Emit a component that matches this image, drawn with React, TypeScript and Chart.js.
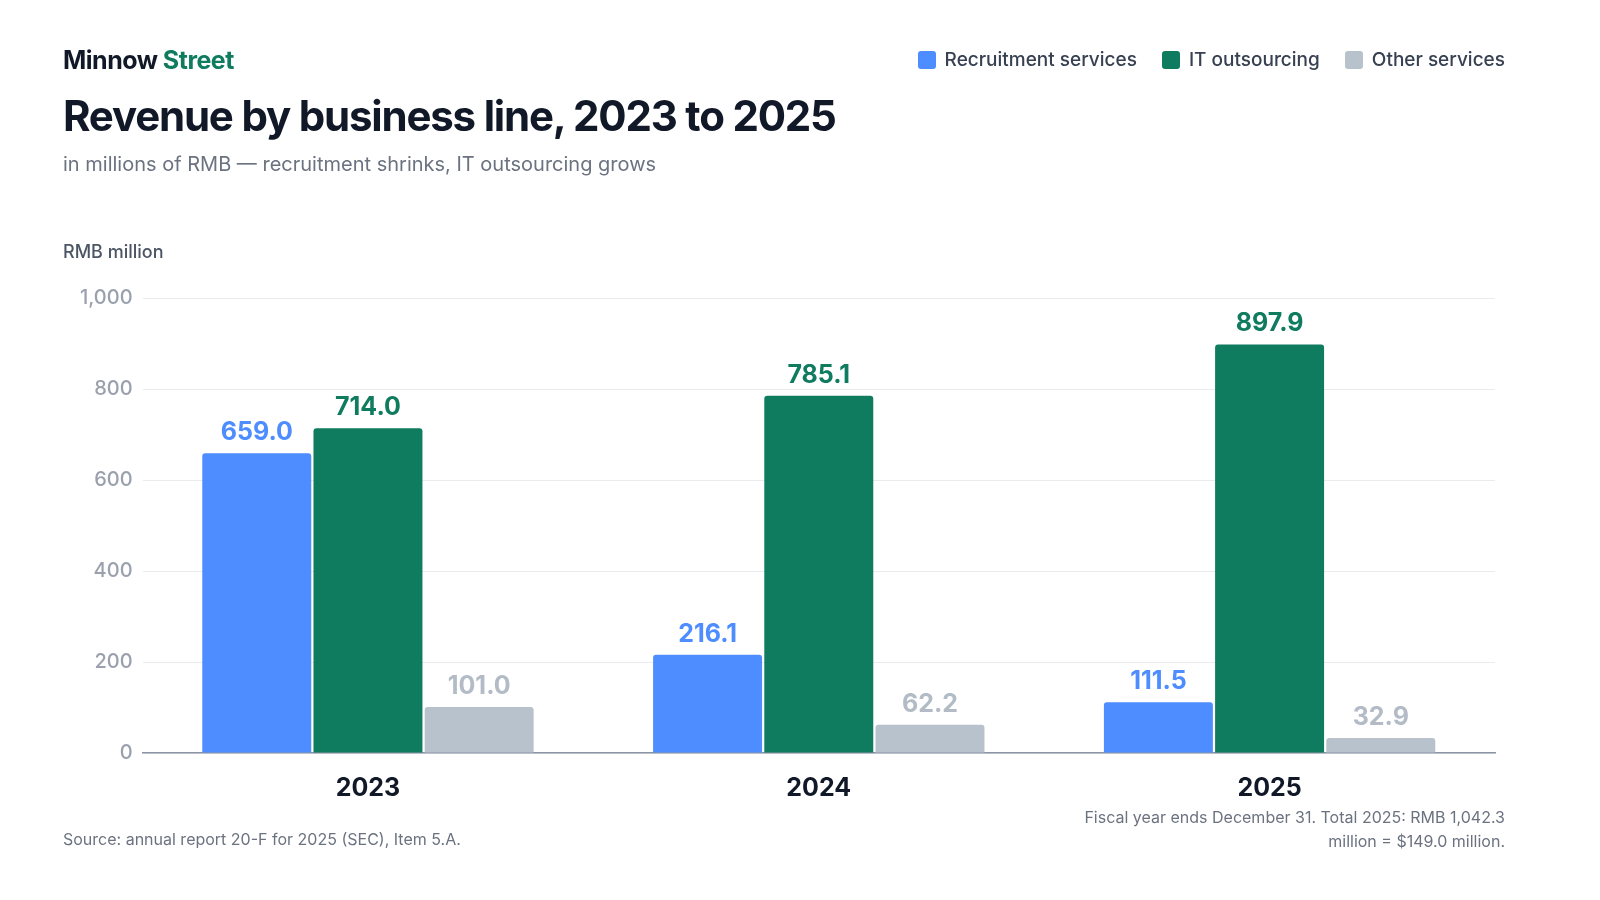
import React, { useEffect, useRef } from "react";
import { Chart, registerables } from "chart.js";
Chart.register(...registerables);

const categories = ["2023", "2024", "2025"];
const recruitment = [659.0, 216.1, 111.5];
const itOutsourcing = [714.0, 785.1, 897.9];
const other = [101.0, 62.2, 32.9];
const yTicks = [0, 200, 400, 600, 800, 1000];

const FONT = "Inter, 'Noto Sans', sans-serif";
const BLUE = "#4d8dff";
const GREEN = "#0f7b5f";
const GRAY = "#b8c2cc";

const labelPlugin = {
  id: "vlabels",
  afterDatasetsDraw(chart: any) {
    const ctx = chart.ctx;
    ctx.save();
    ctx.font = `700 25px ${FONT}`;
    ctx.textAlign = "center";
    ctx.textBaseline = "bottom";
    chart.data.datasets.forEach((ds: any, i: number) => {
      const meta = chart.getDatasetMeta(i);
      meta.data.forEach((bar: any, j: number) => {
        ctx.fillStyle = ds.labelColor;
        ctx.fillText(ds.data[j].toFixed(1), bar.x, bar.y - 8);
      });
    });
    ctx.restore();
  },
};

export default function App() {
  const ref = useRef<HTMLCanvasElement>(null);
  useEffect(() => {
    document.body.style.margin = "0";
    document.documentElement.style.overflow = "hidden";
    document.body.style.overflow = "hidden";
    const chart = new Chart(ref.current!, {
      type: "bar",
      data: {
        labels: categories,
        datasets: [
          { label: "Recruitment services", data: recruitment, backgroundColor: BLUE, labelColor: BLUE } as any,
          { label: "IT outsourcing", data: itOutsourcing, backgroundColor: GREEN, labelColor: GREEN } as any,
          { label: "Other services", data: other, backgroundColor: GRAY, labelColor: "#b3bcc6" } as any,
        ],
      },
      options: {
        animation: false,
        responsive: false,
        maintainAspectRatio: false,
        layout: { padding: { left: 70, right: 105, top: 298, bottom: 85 } },
        datasets: { bar: { categoryPercentage: 0.74, barPercentage: 0.98, borderRadius: { topLeft: 3, topRight: 3 }, borderSkipped: "bottom" } } as any,
        plugins: { legend: { display: false }, tooltip: { enabled: false } },
        scales: {
          x: {
            grid: { display: false },
            border: { color: "#8c94a3", width: 1.5 },
            ticks: { color: "#111827", font: { family: FONT, size: 25, weight: 700 }, padding: 12 },
          },
          y: {
            min: 0,
            max: 1000,
            afterBuildTicks: (s: any) => { s.ticks = yTicks.map((v) => ({ value: v })); },
            grid: { color: "#e9ebee", drawTicks: false },
            border: { display: false },
            ticks: { color: "#9aa1ad", font: { family: FONT, size: 20, weight: 500 }, padding: 10, callback: (v: any) => Number(v).toLocaleString("en-US") },
          },
        },
      },
      plugins: [labelPlugin],
    });
    return () => chart.destroy();
  }, []);

  const legendItem = (c: string, t: string) => (
    <div style={{ display: "flex", alignItems: "center", marginLeft: 25 }}>
      <span style={{ width: 18, height: 18, borderRadius: 3, background: c, marginRight: 9, display: "inline-block" }} />
      <span>{t}</span>
    </div>
  );

  return (
    <div style={{ position: "relative", width: 1600, height: 900, background: "#fff", fontFamily: FONT, overflow: "hidden" }}>
      <canvas ref={ref} width={1600} height={900} style={{ position: "absolute", left: 0, top: 0, width: 1600, height: 900 }} />
      <div style={{ position: "absolute", left: 63, top: 45, fontSize: 25, fontWeight: 700, color: "#111827", letterSpacing: -0.5 }}>
        Minnow <span style={{ color: "#0f7b5f" }}>Street</span>
      </div>
      <div style={{ position: "absolute", right: 95, top: 48, display: "flex", fontSize: 19, fontWeight: 500, color: "#374151" }}>
        {legendItem(BLUE, "Recruitment services")}
        {legendItem(GREEN, "IT outsourcing")}
        {legendItem(GRAY, "Other services")}
      </div>
      <div style={{ position: "absolute", left: 63, top: 90, fontSize: 42, fontWeight: 700, color: "#111827", letterSpacing: -1.2 }}>
        Revenue by business line, 2023 to 2025
      </div>
      <div style={{ position: "absolute", left: 63, top: 152, fontSize: 20, color: "#6b7280" }}>
        in millions of RMB — recruitment shrinks, IT outsourcing grows
      </div>
      <div style={{ position: "absolute", left: 63, top: 241, fontSize: 18, fontWeight: 500, color: "#4b5563" }}>RMB million</div>
      <div style={{ position: "absolute", left: 63, top: 829, fontSize: 16, color: "#6b7280" }}>
        Source: annual report 20-F for 2025 (SEC), Item 5.A.
      </div>
      <div style={{ position: "absolute", right: 95, top: 805, fontSize: 16, color: "#6b7280", textAlign: "right", lineHeight: "24px" }}>
        Fiscal year ends December 31. Total 2025: RMB 1,042.3<br />million = $149.0 million.
      </div>
    </div>
  );
}
